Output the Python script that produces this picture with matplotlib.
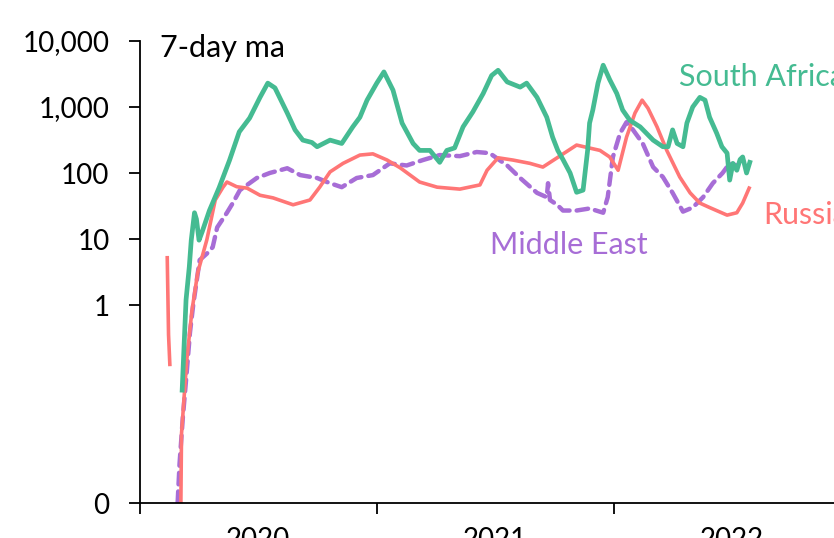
import numpy as np
import pandas as pd
import matplotlib
matplotlib.use('Agg')
import matplotlib.pyplot as plt
import matplotlib.dates as mdates
from matplotlib.ticker import FixedLocator, FixedFormatter, NullLocator, NullFormatter

# Nuevos casos diarios, media móvil de 7 días
sa_dates = ['2020-03-06', '2020-03-12', '2020-03-17', '2020-03-20', '2020-03-25', '2020-03-28',
            '2020-04-01', '2020-04-06', '2020-04-17', '2020-05-02', '2020-05-18', '2020-06-02',
            '2020-06-18', '2020-07-04', '2020-07-16', '2020-07-27', '2020-08-15', '2020-08-27',
            '2020-09-08', '2020-09-22', '2020-09-30', '2020-10-20', '2020-11-07', '2020-11-24',
            '2020-12-05', '2020-12-16', '2020-12-31', '2021-01-11', '2021-01-25', '2021-02-08',
            '2021-02-25', '2021-03-07', '2021-03-23', '2021-04-07', '2021-04-18', '2021-04-30',
            '2021-05-13', '2021-05-28', '2021-06-13', '2021-06-26', '2021-07-06', '2021-07-20',
            '2021-08-09', '2021-08-19', '2021-09-04', '2021-09-19', '2021-09-28', '2021-10-06',
            '2021-10-14', '2021-10-25', '2021-11-04', '2021-11-14', '2021-11-21', '2021-11-24',
            '2021-11-29', '2021-12-07', '2021-12-15', '2021-12-25', '2022-01-05', '2022-01-14',
            '2022-01-25', '2022-02-10', '2022-03-02', '2022-03-17', '2022-03-25', '2022-04-01',
            '2022-04-08', '2022-04-17', '2022-04-23', '2022-05-02', '2022-05-13', '2022-05-21',
            '2022-05-28', '2022-06-08', '2022-06-16', '2022-06-24', '2022-06-28', '2022-07-03',
            '2022-07-09', '2022-07-14', '2022-07-18', '2022-07-24', '2022-07-29']
sa_vals = [0.57, 1.2, 3.8, 9.6, 25, 20,
           9.6, 13, 27, 60, 156, 420,
           680, 1400, 2300, 1950, 810, 450,
           315, 290, 250, 315, 280, 500,
           700, 1270, 2300, 3400, 1800, 570,
           280, 220, 220, 145, 220, 240,
           500, 840, 1600, 3000, 3600, 2400,
           2000, 2300, 1400, 700, 350, 220,
           160, 100, 51, 55, 220, 570,
           900, 2300, 4300, 2600, 1600, 900,
           630, 500, 315, 250, 250, 450,
           280, 250, 570, 1000, 1400, 1270,
           700, 400, 250, 200, 78, 140,
           110, 160, 175, 100, 145]

ru_dates = ['2020-02-12', '2020-02-14', '2020-02-16', '2020-02-20', '2020-03-04', '2020-03-05',
            '2020-03-13', '2020-03-21', '2020-03-30', '2020-04-13', '2020-04-26', '2020-05-08',
            '2020-05-14', '2020-05-29', '2020-06-14', '2020-07-04', '2020-07-24', '2020-08-24',
            '2020-09-19', '2020-10-04', '2020-10-20', '2020-11-09', '2020-12-05', '2020-12-25',
            '2021-01-16', '2021-02-05', '2021-03-07', '2021-04-03', '2021-05-08', '2021-06-08',
            '2021-06-19', '2021-07-06', '2021-07-29', '2021-08-24', '2021-09-13', '2021-10-05',
            '2021-11-04', '2021-12-10', '2021-12-25', '2022-01-07', '2022-01-20', '2022-02-02',
            '2022-02-13', '2022-02-22', '2022-03-08', '2022-03-23', '2022-04-12', '2022-04-28',
            '2022-05-13', '2022-05-28', '2022-06-24', '2022-07-09', '2022-07-18', '2022-07-28']
ru_vals = [5.2, 0.85, 0.70, np.nan, 0, 0.35,
           0.72, 0.97, 3.1, 9.7, 39, 61,
           73, 62, 59, 46, 42, 33,
           39, 61, 104, 140, 187, 195,
           157, 120, 73, 61, 57, 66,
           110, 170, 157, 140, 123, 170,
           265, 220, 175, 110, 350, 810,
           1270, 960, 500, 220, 87, 50,
           35, 30, 23, 25, 35, 59]

me_dates = ['2020-02-28', '2020-03-02', '2020-03-07', '2020-03-13', '2020-03-18', '2020-03-23',
            '2020-04-02', '2020-04-13', '2020-04-22', '2020-04-29', '2020-05-14', '2020-05-23',
            '2020-06-03', '2020-06-29', '2020-07-19', '2020-08-15', '2020-09-04', '2020-09-30',
            '2020-10-20', '2020-11-07', '2020-11-30', '2020-12-25', '2021-01-20', '2021-02-15',
            '2021-03-12', '2021-04-07', '2021-05-08', '2021-06-03', '2021-06-23', '2021-07-20',
            '2021-08-09', '2021-09-04', '2021-09-19', '2021-09-21', '2021-09-24', '2021-10-05',
            '2021-10-14', '2021-11-04', '2021-11-24', '2021-12-15', '2021-12-22', '2021-12-30',
            '2022-01-10', '2022-01-20', '2022-01-30', '2022-02-14', '2022-03-02', '2022-03-17',
            '2022-04-01', '2022-04-17', '2022-05-02', '2022-05-18', '2022-06-02', '2022-06-17',
            '2022-06-28', '2022-07-09']
me_vals = [0, 0.2, 0.43, 0.66, 0.86, 1.0,
           4.8, 6, 7.5, 15, 25, 35,
           55, 84, 100, 118, 93, 84,
           70, 61, 84, 93, 140, 130,
           157, 187, 180, 208, 200, 130,
           84, 50, 43, 70, 39, 33,
           27, 27, 29, 25, 43, 175,
           400, 590, 450, 280, 123, 87,
           50, 26, 30, 43, 70, 100,
           140, 130]

y_ticks = [0, 1, 10, 100, 1000, 10000]
y_labels = ['0', '1', '10', '100', '1,000', '10,000']
years = ['2020', '2021', '2022']

green = '#45BB92'
red = '#FF7676'
purple = '#A76DD6'

plt.rcParams['font.family'] = ['Lato', 'DejaVu Sans']
fs = 20
fs_lab = 22

fig = plt.figure(figsize=(8.34, 5.38), dpi=100)
ax = fig.add_axes([140/834, 35/538, 711/834, 462/538])

ax.plot(pd.to_datetime(me_dates), me_vals, color=purple, lw=3.2,
        ls=(0, (2.6, 1.6)), dash_capstyle='round')
ax.plot(pd.to_datetime(ru_dates), ru_vals, color=red, lw=2.6)
ax.plot(pd.to_datetime(sa_dates), sa_vals, color=green, lw=3.4)

# escala log con el cero incluido
ax.set_yscale('symlog', linthresh=1, linscale=2.7)
ax.set_ylim(0, 10000)
ax.yaxis.set_major_locator(FixedLocator(y_ticks))
ax.yaxis.set_major_formatter(FixedFormatter(y_labels))
ax.yaxis.set_minor_locator(NullLocator())

# etiquetas de año a mitad de cada año
ax.xaxis.set_major_locator(mdates.YearLocator())
ax.xaxis.set_major_formatter(NullFormatter())
ax.set_xticks(pd.to_datetime([y + '-07-01' for y in years]), minor=True)
ax.set_xticklabels(years, minor=True)
ax.set_xlim(pd.Timestamp('2020-01-01'), pd.Timestamp('2023-01-01'))

ax.spines['top'].set_visible(False)
ax.spines['right'].set_visible(False)
ax.spines['left'].set_linewidth(1.3)
ax.spines['bottom'].set_linewidth(1.3)
ax.tick_params(axis='y', length=8, width=1.3, pad=14, labelsize=fs)
ax.tick_params(axis='x', which='major', length=8, width=1.3)
ax.tick_params(axis='x', which='minor', length=0, pad=17, labelsize=fs)

fig.text(160/834, 1 - 48/538, '7-day ma', fontsize=fs_lab, va='center')
fig.text(679/834, 1 - 77/538, 'South Africa', fontsize=fs_lab, va='center', color=green)
fig.text(763/834, 1 - 215/538, 'Russia', fontsize=fs_lab, va='center', color=red)
fig.text(490/834, 1 - 245/538, 'Middle East', fontsize=fs_lab, va='center', color=purple)

plt.savefig('out.png', dpi=100)
